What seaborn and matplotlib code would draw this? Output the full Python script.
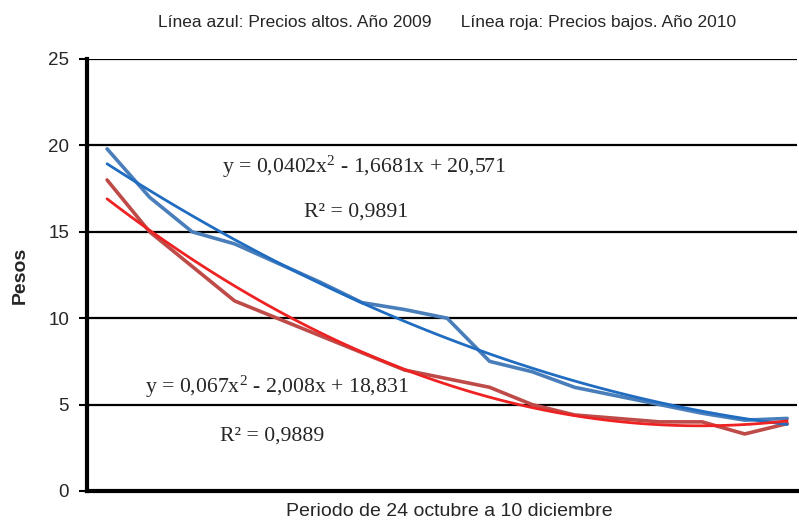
import numpy as np
import pandas as pd
import matplotlib
matplotlib.use("Agg")
import matplotlib.pyplot as plt
import seaborn as sns

# Datos (17 observaciones, 24 oct - 10 dic)
periodo = list(range(1, 18))
precios_altos_2009 = [19.8, 17.0, 15.0, 14.3, 13.2, 12.1, 10.9, 10.5, 10.0, 7.5,
                      6.9, 6.0, 5.5, 5.0, 4.5, 4.1, 4.2]
precios_bajos_2010 = [18.0, 15.0, 13.0, 11.0, 10.0, 9.0, 8.0, 7.0, 6.5, 6.0,
                      5.0, 4.4, 4.2, 4.0, 4.0, 3.3, 3.9]
y_ticks = [0, 5, 10, 15, 20, 25]

titulo = "Línea azul: Precios altos. Año 2009      Línea roja: Precios bajos. Año 2010"
eq_azul = "y = 0,0402x$^2$ - 1,6681x + 20,571"
r2_azul = "R² = 0,9891"
eq_roja = "y = 0,067x$^2$ - 2,008x + 18,831"
r2_roja = "R² = 0,9889"

df = pd.DataFrame({"periodo": periodo,
                   "altos": precios_altos_2009,
                   "bajos": precios_bajos_2010})

sns.set_theme(style="white")
plt.rcParams['font.family'] = ['Liberation Sans', 'DejaVu Sans']
plt.rcParams['mathtext.fontset'] = 'custom'
plt.rcParams['mathtext.rm'] = 'Liberation Serif'
plt.rcParams['mathtext.it'] = 'Liberation Serif'
plt.rcParams['mathtext.default'] = 'regular'

fig = plt.figure(figsize=(7.99, 5.22), dpi=100)
ax = fig.add_axes([0.109, 0.0594, 0.889, 0.8276])

# series de datos
sns.lineplot(data=df, x="periodo", y="altos", color="#4a7ebb", lw=2.6, ax=ax)
sns.lineplot(data=df, x="periodo", y="bajos", color="#be4b48", lw=2.6, ax=ax)

# lineas de tendencia polinomica de orden 2
sns.regplot(data=df, x="periodo", y="altos", order=2, ci=None, scatter=False,
            line_kws={"color": "#1f6cc0", "lw": 2.0}, ax=ax)
sns.regplot(data=df, x="periodo", y="bajos", order=2, ci=None, scatter=False,
            line_kws={"color": "#ee2222", "lw": 2.0}, ax=ax)

ax.set_xlim(0.53, 17.24)
ax.set_ylim(0, 25)
ax.set_yticks(y_ticks)
ax.set_xticks([])
for v in y_ticks[1:]:
    ax.axhline(v, color="black", lw=1.6, zorder=0)

for s in ["top", "right"]:
    ax.spines[s].set_visible(False)
for s in ["left", "bottom"]:
    ax.spines[s].set_color("black")
    ax.spines[s].set_linewidth(3)
ax.tick_params(axis="y", which="both", left=True, length=6, width=1.5,
               color="black", labelsize=13.5, pad=7)

ax.set_xlabel("")
ax.set_ylabel("")
fig.text(0.562, 1 - 512 / 522, "Periodo de 24 octubre a 10 diciembre",
         ha="center", va="center", fontsize=14)
fig.text(20 / 799, 1 - 275 / 522, "Pesos", ha="center", va="center",
         rotation=90, fontsize=14, fontweight="bold")
fig.text(447 / 799, 1 - 22 / 522, titulo, ha="center", va="center", fontsize=12.5)

serif = ['Liberation Serif', 'DejaVu Serif']
fig.text(222 / 799, 1 - 167 / 522, eq_azul, ha="left", va="center", fontsize=15.7, family=serif)
fig.text(304 / 799, 1 - 212 / 522, r2_azul, ha="left", va="center", fontsize=15.7, family=serif)
fig.text(145 / 799, 1 - 387 / 522, eq_roja, ha="left", va="center", fontsize=15.7, family=serif)
fig.text(220 / 799, 1 - 436 / 522, r2_roja, ha="left", va="center", fontsize=15.7, family=serif)

fig.savefig("out.png", dpi=100)
